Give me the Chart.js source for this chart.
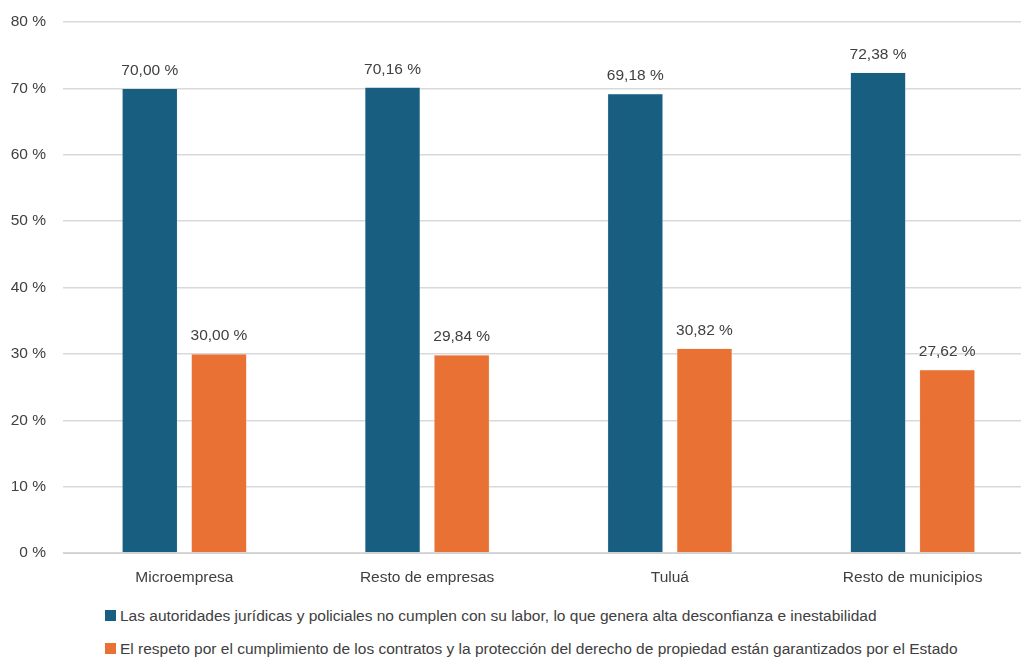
<!doctype html>
<html lang="es">
<head>
  <meta charset="utf-8">
  <title>Percepción de seguridad jurídica</title>
  <script src="https://cdn.jsdelivr.net/npm/chart.js@4.4.1/dist/chart.umd.min.js"></script>
  <style>
    html, body { margin: 0; padding: 0; background: #fff; overflow: hidden; }
    #wrap { position: absolute; left: 0; top: 0; width: 1034px; height: 600px; }
    .legend { position: absolute; left: 105px; font-family: "Liberation Sans", Arial, sans-serif; font-size: 15.5px; color: #404040; white-space: nowrap; }
    .legend span.box { display: inline-block; width: 11px; height: 11px; margin-right: 4px; vertical-align: 0px; }
  </style>
</head>
<body>
  <div id="wrap"><canvas id="myChart"></canvas></div>
  <div id="legend"></div>

  <script>
var categories = ["Microempresa", "Resto de empresas", "Tuluá", "Resto de municipios"];
var seriesNames = [
  "Las autoridades jurídicas y policiales no cumplen con su labor, lo que genera alta desconfianza e inestabilidad",
  "El respeto por el cumplimiento de los contratos y la protección del derecho de propiedad están garantizados por el Estado"
];
var desconfianza = [70.00, 70.16, 69.18, 72.38];
var garantizados = [30.00, 29.84, 30.82, 27.62];
var yTicks = [0, 10, 20, 30, 40, 50, 60, 70, 80];

var colors = ["#185e80", "#ea7134"];
var fontFamily = '"Liberation Sans", Arial, sans-serif';
var fontSize = 15.5;
var textColor = "#404040";

function fmt(v) {
  return v.toFixed(2).replace(".", ",") + " %";
}

// value labels above each bar
var barLabels = {
  id: "barLabels",
  afterDatasetsDraw: function(chart) {
    var ctx = chart.ctx;
    ctx.save();
    ctx.font = fontSize + "px " + fontFamily;
    ctx.fillStyle = textColor;
    ctx.textAlign = "center";
    ctx.textBaseline = "bottom";
    chart.data.datasets.forEach(function(ds, i) {
      chart.getDatasetMeta(i).data.forEach(function(bar, j) {
        ctx.fillText(fmt(ds.data[j]), bar.x, bar.y - 10);
      });
    });
    ctx.restore();
  }
};

var ctx = document.getElementById("myChart").getContext("2d");
var chart = new Chart(ctx, {
  type: "bar",
  data: {
    labels: categories,
    datasets: [
      { label: seriesNames[0], data: desconfianza, backgroundColor: colors[0], borderColor: "#cfe0ea", borderWidth: 0.5 },
      { label: seriesNames[1], data: garantizados, backgroundColor: colors[1], borderColor: "#f6cdb5", borderWidth: 0.5 }
    ]
  },
  options: {
    responsive: true,
    maintainAspectRatio: false,
    animation: false,
    layout: { padding: { top: 22, left: 0, right: 0, bottom: 0 } },
    plugins: {
      legend: { display: false },
      tooltip: { enabled: false }
    },
    datasets: {
      bar: { categoryPercentage: 0.57, barPercentage: 0.8 }
    },
    scales: {
      x: {
        grid: { display: false, drawTicks: false },
        border: { color: "#d0d0d0", width: 1 },
        ticks: { color: textColor, font: { family: fontFamily, size: fontSize }, padding: 15, maxRotation: 0 },
        afterFit: function(scale) { scale.height = 47; }
      },
      y: {
        min: 0,
        max: 80,
        afterBuildTicks: function(scale) {
          scale.ticks = yTicks.map(function(v) { return { value: v }; });
        },
        grid: { color: "#d9d9d9", lineWidth: 1.5, drawTicks: false },
        border: { display: false },
        ticks: {
          color: textColor,
          font: { family: fontFamily, size: fontSize },
          padding: 17,
          callback: function(v) { return v + " %"; }
        },
        afterFit: function(scale) {
          scale.width = 63;
          scale.paddingTop = 8;
          scale.paddingBottom = 8;
        }
      }
    }
  },
  plugins: [barLabels]
});

// legend in two rows, left aligned
var legend = document.getElementById("legend");
chart.data.datasets.forEach(function(ds, i) {
  var row = document.createElement("div");
  row.className = "legend";
  row.style.top = (607 + i * 33) + "px";
  row.innerHTML = '<span class="box" style="background:' + ds.backgroundColor + '"></span>' + ds.label;
  legend.appendChild(row);
});
  </script>
</body>
</html>
